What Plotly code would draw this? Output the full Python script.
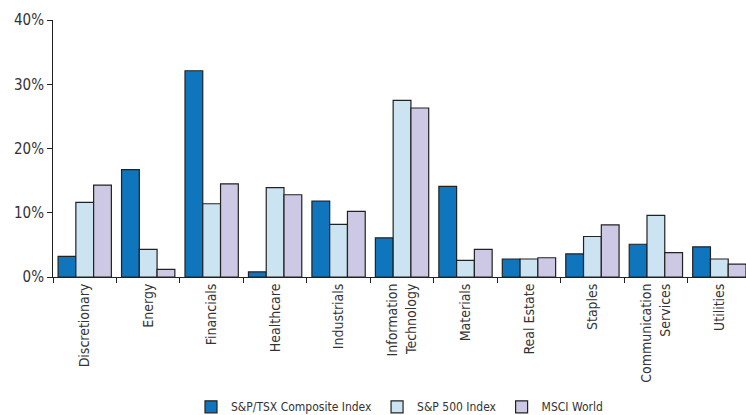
import plotly.graph_objects as go

categories = ["Discretionary", "Energy", "Financials", "Healthcare", "Industrials",
              "Information<br>Technology", "Materials", "Real Estate", "Staples",
              "Communication<br>Services", "Utilities"]
tsx = [3.2, 16.7, 32.1, 0.8, 11.8, 6.1, 14.1, 2.8, 3.6, 5.1, 4.7]
sp500 = [11.6, 4.3, 11.4, 13.9, 8.2, 27.5, 2.6, 2.8, 6.3, 9.6, 2.8]
msci = [14.3, 1.2, 14.5, 12.8, 10.2, 26.3, 4.3, 3.0, 8.1, 3.8, 2.0]
series_names = ["S&P/TSX Composite Index", "S&P 500 Index", "MSCI World"]
colors = ["#0f75bc", "#cce3f2", "#cdc9e5"]
y_ticks = [0, 10, 20, 30, 40]
y_ticklabels = ["0%", "10%", "20%", "30%", "40%"]

font_family = "DejaVu Sans Condensed, Open Sans, sans-serif"

fig = go.Figure()
for name, vals, col in zip(series_names, [tsx, sp500, msci], colors):
    fig.add_trace(go.Bar(
        x=categories, y=vals, name=name,
        marker=dict(color=col, line=dict(color="#222222", width=1.2)),
    ))

fig.update_layout(
    width=746, height=415,
    margin=dict(l=53, r=0, t=20, b=138, autoexpand=False),
    paper_bgcolor="white", plot_bgcolor="white",
    barmode="group", bargap=0.16, bargroupgap=0.0,
    font=dict(family=font_family, color="#333333"),
    showlegend=True,
    legend=dict(orientation="h", x=0.5, xanchor="center", y=-0.505, yanchor="middle",
                font=dict(size=12, color="#333333"), itemwidth=30,
                traceorder="normal"),
)
fig.update_yaxes(
    range=[0, 40], tickvals=y_ticks, ticktext=y_ticklabels,
    showgrid=False, zeroline=False, showline=True, linecolor="#222222", linewidth=1,
    ticks="outside", ticklen=5, tickcolor="#222222", automargin=False,
    tickfont=dict(size=15, color="#333333"),
)
fig.update_xaxes(
    range=[-0.5, 10.42], showgrid=False, showline=True, linecolor="#222222", linewidth=1,
    ticks="outside", ticklen=5, tickcolor="#222222", tickson="boundaries", automargin=False,
    tickangle=-90, tickfont=dict(size=14, color="#333333"),
)

fig.write_html("out.html")
